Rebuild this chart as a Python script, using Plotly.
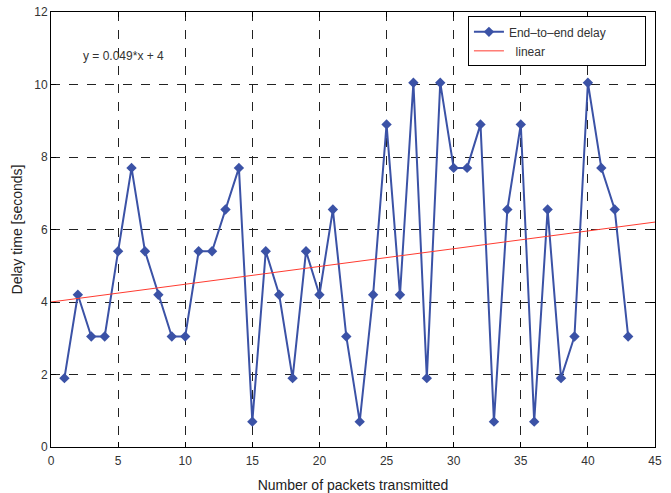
import plotly.graph_objects as go

packets = list(range(1, 44))
delay = [1.9, 4.2, 3.05, 3.05, 5.4, 7.7, 5.4, 4.2, 3.05, 3.05,
         5.4, 5.4, 6.55, 7.7, 0.7, 5.4, 4.2, 1.9, 5.4, 4.2,
         6.55, 3.05, 0.7, 4.2, 8.9, 4.2, 10.05, 1.9, 10.05, 7.7,
         7.7, 8.9, 0.7, 6.55, 8.9, 0.7, 6.55, 1.9, 3.05, 10.05,
         7.7, 6.55, 3.05]
slope = 0.049
intercept = 4
fit_x = [0, 45]
fit_y = [slope * x + intercept for x in fit_x]

blue = "#3b52a6"
fig = go.Figure()
fig.add_trace(go.Scatter(x=packets, y=delay, mode="lines+markers",
                         name="End\u2013to\u2013end delay" + "\u00a0" * 10,
                         line=dict(color=blue, width=2),
                         marker=dict(symbol="diamond", size=8, color=blue)))
fig.add_trace(go.Scatter(x=fit_x, y=fit_y, mode="lines", name="\u00a0\u00a0linear",
                         line=dict(color="#ff3b30", width=1)))

axis_common = dict(showline=True, linecolor="black", linewidth=1, mirror="allticks",
                   ticks="inside", ticklen=5, tickcolor="black", automargin=False,
                   showgrid=True, gridcolor="#222222", griddash="dash", gridwidth=1,
                   zeroline=False, tickfont=dict(size=12, color="#333"))
fig.update_xaxes(range=[0, 45], dtick=5, tick0=0, ticklabelstandoff=3,
                 title=dict(text="Number of packets transmitted", font=dict(size=14, color="#222"), standoff=14),
                 **axis_common)
fig.update_yaxes(range=[0, 12], dtick=2, tick0=0,
                 title=dict(text="Delay time [seconds]", font=dict(size=14, color="#222"), standoff=8),
                 **axis_common)

fig.add_annotation(x=0.05, y=0.899, xref="paper", yref="paper", xanchor="left", yanchor="middle",
                   text="y = 0.049*x + 4", showarrow=False, font=dict(size=12, color="#333"))

fig.update_layout(width=671, height=493, margin=dict(l=51, r=16, t=12, b=46),
                  paper_bgcolor="white", plot_bgcolor="white",
                  font=dict(family="Liberation Sans, Arial, sans-serif"),
                  showlegend=True,
                  legend=dict(x=0.985, y=0.99, xanchor="right", yanchor="top",
                              bordercolor="black", borderwidth=1, bgcolor="white",
                              font=dict(size=12, color="#333"), tracegroupgap=0,
                              itemwidth=30))
fig.write_html("out.html")
